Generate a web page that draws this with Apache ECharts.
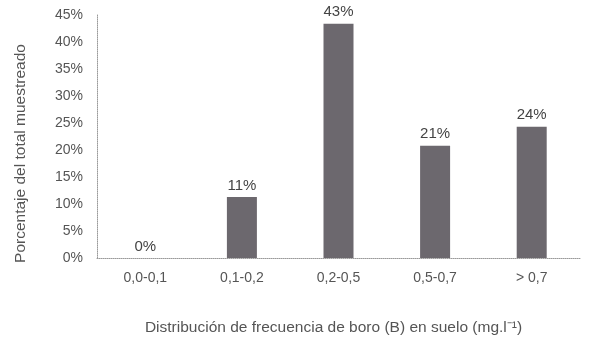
<!DOCTYPE html>
<html>
<head>
<meta charset="utf-8">
<script src="https://cdn.jsdelivr.net/npm/echarts@6/dist/echarts.min.js"></script>
<style>
  html, body { margin: 0; padding: 0; background: #fff; }
  #chart { width: 600px; height: 341px; }
</style>
</head>
<body>
<div id="chart"></div>
<script>
  // distribución de frecuencia de boro
  var categories = ['0,0-0,1', '0,1-0,2', '0,2-0,5', '0,5-0,7', '> 0,7'];
  var values = [0, 11.3, 43.4, 20.8, 24.3];
  var yTicks = [0, 5, 10, 15, 20, 25, 30, 35, 40, 45];

  var chart = echarts.init(document.getElementById('chart'));
  chart.setOption({
    backgroundColor: '#ffffff',
    textStyle: { fontFamily: 'Liberation Sans, Arial, sans-serif' },
    grid: { left: 97, right: 20, top: 15, bottom: 78 },
    xAxis: {
      type: 'category',
      data: categories,
      name: 'Distribución de frecuencia de boro (B) en suelo (mg.l⁻¹)',
      nameLocation: 'middle',
      nameGap: 62,
      nameTextStyle: { fontSize: 15.5, color: '#555', padding: [0, 10, 0, 0] },
      axisLine: { lineStyle: { color: '#9a9a9a', type: 'dotted', width: 1 } },
      axisTick: { show: false },
      axisLabel: { fontSize: 14, color: '#555', margin: 13 }
    },
    yAxis: {
      type: 'value',
      min: yTicks[0],
      max: yTicks[yTicks.length - 1],
      interval: 5,
      name: 'Porcentaje del total muestreado',
      nameLocation: 'middle',
      nameGap: 68,
      nameTextStyle: { fontSize: 15.5, color: '#555', padding: [0, 34, 0, 0] },
      axisLine: { show: true, lineStyle: { color: '#9a9a9a', type: 'dotted', width: 1 } },
      axisTick: { show: false },
      splitLine: { show: false },
      axisLabel: { fontSize: 14, color: '#555', margin: 14, formatter: '{value}%' }
    },
    series: [{
      type: 'bar',
      data: values,
      barWidth: 30,
      itemStyle: { color: '#6c686e' },
      label: {
        show: true,
        position: 'top',
        distance: 4,
        fontSize: 15,
        color: '#444',
        formatter: function (p) { return Math.round(p.value) + '%'; }
      }
    }]
  });
</script>
</body>
</html>
